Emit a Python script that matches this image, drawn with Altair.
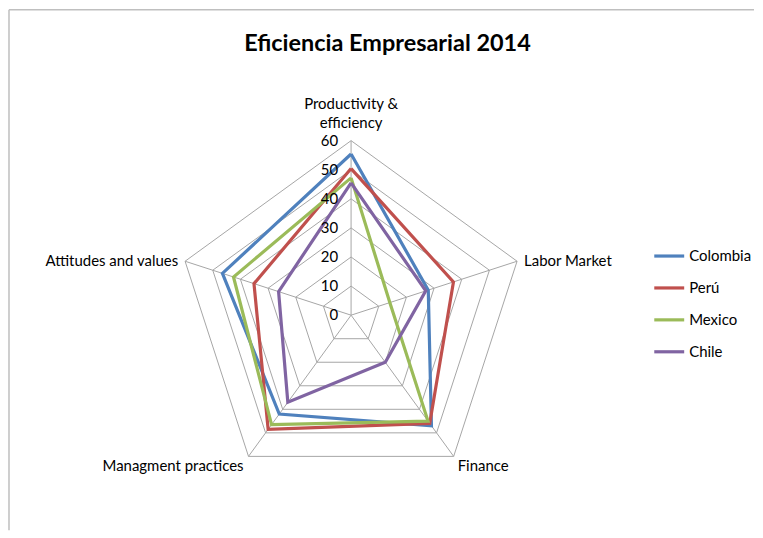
import altair as alt
import numpy as np
import pandas as pd

# ---- data ----
categories = ["Productivity & efficiency", "Labor Market", "Finance",
              "Managment practices", "Attitudes and values"]
countries = ["Colombia", "Perú", "Mexico", "Chile"]
colombia = [55.4, 27.9, 47.0, 42.0, 46.5]
peru = [50.4, 37.0, 46.0, 48.5, 35.1]
mexico = [47.2, 14.0, 45.0, 46.5, 42.5]
chile = [45.5, 27.0, 20.0, 37.0, 26.2]
series = [colombia, peru, mexico, chile]
colors = ["#4F81BD", "#C0504D", "#9BBB59", "#8064A2"]
ticks = [0, 10, 20, 30, 40, 50, 60]

# ---- geometry ----
n = len(categories)
angles = np.deg2rad(90 - 360 / n * np.arange(n))
rmax = ticks[-1]

W, H = 747, 522
k = 175 / rmax            # px per unit
cx_px, cy_px = 343, 306.3  # center inside view
xdom = [-cx_px / k, (W - cx_px) / k]
ydom = [-(H - cy_px) / k, cy_px / k]
X = alt.X("x:Q", scale=alt.Scale(domain=xdom, nice=False, zero=False), axis=None)
Y = alt.Y("y:Q", scale=alt.Scale(domain=ydom, nice=False, zero=False), axis=None)

# series lines
rows = []
for c, vals in zip(countries, series):
    for i in range(n + 1):
        j = i % n
        rows.append({"country": c, "i": i, "cat": categories[j],
                     "x": vals[j] * np.cos(angles[j]), "y": vals[j] * np.sin(angles[j])})
df_lines = pd.DataFrame(rows)

# grid rings
grid = []
for t in ticks[1:]:
    for i in range(n + 1):
        j = i % n
        grid.append({"ring": t, "i": i, "x": t * np.cos(angles[j]), "y": t * np.sin(angles[j])})
df_grid = pd.DataFrame(grid)

df_spokes = pd.DataFrame({"x": [0.0] * n, "y": [0.0] * n,
                          "x2": rmax * np.cos(angles), "y2": rmax * np.sin(angles)})

df_ticks = pd.DataFrame({"x": [0.0] * len(ticks), "y": ticks, "label": [str(t) for t in ticks]})

df_cat = pd.DataFrame({"x": rmax * np.cos(angles), "y": rmax * np.sin(angles),
                       "label": categories})

# chart-area frame (left and top edges; right/bottom lie beyond the window)
df_frame = pd.DataFrame({"x": [xdom[0], xdom[0]], "y": [ydom[0], ydom[1]],
                         "x2": [xdom[0], xdom[1]], "y2": [ydom[1], ydom[1]]})

gray = "#A6A6A6"

frame = alt.Chart(df_frame).mark_rule(color="#BFBFBF", strokeWidth=1.5).encode(
    x=X, y=Y, x2="x2:Q", y2="y2:Q")
rings = alt.Chart(df_grid).mark_line(color=gray, strokeWidth=1).encode(
    x=X, y=Y, detail="ring:N", order="i:Q")
spokes = alt.Chart(df_spokes).mark_rule(color=gray, strokeWidth=1).encode(
    x=X, y=Y, x2="x2:Q", y2="y2:Q")

lines = alt.Chart(df_lines).mark_line(strokeWidth=3.2, strokeJoin="miter").encode(
    x=X, y=Y, order="i:Q",
    color=alt.Color("country:N", sort=countries,
                    scale=alt.Scale(domain=countries, range=colors),
                    legend=alt.Legend(title=None, orient="none", legendX=645, legendY=230,
                                      symbolType="stroke", symbolSize=900,
                                      symbolStrokeWidth=3.2, labelFontSize=15,
                                      labelFont="Lato", labelColor="#000000",
                                      rowPadding=7, labelOffset=3)))

tick_text = alt.Chart(df_ticks).mark_text(align="right", baseline="middle", dx=-13,
                                          fontSize=15, font="Lato", color="#000000").encode(
    x=X, y=Y, text="label:N")

font = dict(font="Lato", fontSize=15, color="#000000")
top_lbl = alt.Chart(df_cat.iloc[[0]]).mark_text(
    align="center", baseline="bottom", dy=-29, lineBreak="|", lineHeight=19, **font).encode(
    x=X, y=Y, text=alt.value("Productivity &|efficiency"))
right_lbl = alt.Chart(df_cat.iloc[[1]]).mark_text(
    align="left", baseline="middle", dx=7, **font).encode(x=X, y=Y, text="label:N")
left_lbl = alt.Chart(df_cat.iloc[[4]]).mark_text(
    align="right", baseline="middle", dx=-7, **font).encode(x=X, y=Y, text="label:N")
br_lbl = alt.Chart(df_cat.iloc[[2]]).mark_text(
    align="left", baseline="top", dx=4, dy=3, **font).encode(x=X, y=Y, text="label:N")
bl_lbl = alt.Chart(df_cat.iloc[[3]]).mark_text(
    align="right", baseline="top", dx=-5, dy=3, **font).encode(x=X, y=Y, text="label:N")

chart = alt.layer(frame, rings, spokes, lines, tick_text, top_lbl, right_lbl, left_lbl,
                  br_lbl, bl_lbl).properties(
    width=W, height=H, padding=0,
    title=alt.TitleParams("Eficiencia Empresarial 2014", font="Lato", fontSize=23.5,
                          fontWeight="bold", color="#000000", anchor="middle",
                          dx=6, offset=-47, orient="top")
).configure_view(stroke=None)

chart.save("out.html", embed_options={"renderer": "svg", "actions": False})
